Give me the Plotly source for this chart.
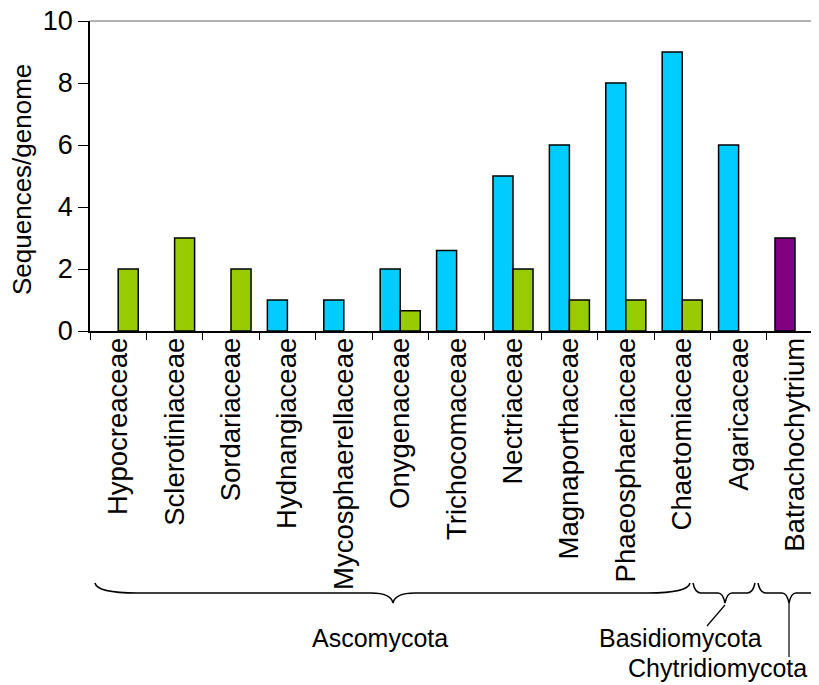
import plotly.graph_objects as go

categories = ["Hypocreaceae", "Sclerotiniaceae", "Sordariaceae", "Hydnangiaceae",
              "Mycosphaerellaceae", "Onygenaceae", "Trichocomaceae", "Nectriaceae",
              "Magnaporthaceae", "Phaeosphaeriaceae", "Chaetomiaceae", "Agaricaceae",
              "Batrachochytrium"]
cyan_values = [None, None, None, 1, 1, 2, 2.6, 5, 6, 8, 9, 6, None]
green_values = [2, 3, 2, None, None, 0.65, None, 2, 1, 1, 1, None, None]
purple_values = [None] * 12 + [3]
y_ticks = [0, 2, 4, 6, 8, 10]

phyla = ["Ascomycota", "Basidiomycota", "Chytridiomycota"]
y_title = "Sequences/genome"

FONT = "Liberation Sans, Arial, sans-serif"
OFF = 8  # page body margin
W, H = 819, 685
# desired screen positions of plot area: x 90.., y 21..331
SL, ST, SB = 90, 21, 331
CAT_W = 56.4
L = SL - OFF
T = ST - OFF
B = H - (SB - OFF)
PW = W - L          # r = 0
PH = SB - ST
X_END = PW / CAT_W - 0.5


def px(x):
    return (x - SL) / PW


def py(y):
    return (SB - y) / PH


def P(x, y):
    return f"{px(x):.5f},{py(y):.5f}"


def brace(x0, x1, xt, r0, rt, y0=583, ym=593, yt=603):
    return (f"M{P(x0, y0)} Q{P(x0 + 2, ym)} {P(x0 + r0, ym)} "
            f"L{P(xt - rt, ym)} Q{P(xt - 2, ym)} {P(xt, yt)} "
            f"Q{P(xt + 2, ym)} {P(xt + rt, ym)} "
            f"L{P(x1 - r0, ym)} Q{P(x1 - 2, ym)} {P(x1, y0)}")


fig = go.Figure()
line = dict(color="black", width=1.5)
fig.add_trace(go.Bar(x=categories, y=cyan_values, marker=dict(color="#00CCFF", line=line),
                     offsetgroup="a", name="a"))
fig.add_trace(go.Bar(x=categories, y=green_values, marker=dict(color="#99CC00", line=line),
                     offsetgroup="b", name="b"))
fig.add_trace(go.Bar(x=categories, y=purple_values, marker=dict(color="#800080", line=line),
                     offsetgroup="a", name="c"))

shapes = [
    dict(type="line", xref="paper", yref="paper", x0=0, x1=1, y0=1, y1=1,
         line=dict(color="#999999", width=1.5)),
    dict(type="path", xref="paper", yref="paper", path=brace(95, 690, 393, 42, 22),
         line=dict(color="black", width=1.5)),
    dict(type="path", xref="paper", yref="paper", path=brace(693, 755, 725, 8, 7),
         line=dict(color="black", width=1.5)),
    dict(type="path", xref="paper", yref="paper", path=brace(758, 850, 789, 8, 7),
         line=dict(color="black", width=1.5)),
    dict(type="line", xref="paper", yref="paper", x0=px(725), y0=py(605), x1=px(707), y1=py(626),
         line=dict(color="black", width=1.2)),
    dict(type="line", xref="paper", yref="paper", x0=px(789), y0=py(603), x1=px(789), y1=py(657),
         line=dict(color="black", width=1.2)),
]

annotations = [
    dict(text=phyla[0], x=px(380), y=py(638)),
    dict(text=phyla[1], x=px(680), y=py(638)),
    dict(text=phyla[2], x=px(717), y=py(668)),
]
for a in annotations:
    a.update(font=dict(family=FONT, size=25, color="black"))
annotations.append(dict(text=y_title, x=px(22), y=py(180), textangle=-90,
                        font=dict(family=FONT, size=26, color="black")))
for a in annotations:
    a.update(xref="paper", yref="paper", xanchor="center", yanchor="middle", showarrow=False)

fig.update_layout(
    width=W, height=H,
    margin=dict(l=L, r=0, t=T, b=B, autoexpand=False),
    paper_bgcolor="white", plot_bgcolor="white",
    barmode="group", bargap=0.29, bargroupgap=0,
    showlegend=False,
    font=dict(family=FONT, color="black"),
    shapes=shapes, annotations=annotations,
)
fig.update_xaxes(
    range=[-0.5, X_END],
    showline=True, linecolor="black", linewidth=1.5,
    ticks="outside", tickson="boundaries", ticklen=7, tickwidth=1.2, tickcolor="black",
    tickangle=-90, tickfont=dict(family=FONT, size=27.5, color="black"),
    showgrid=False, automargin=False, ticklabelstandoff=-6,
)
fig.update_yaxes(
    range=[0, 10], tickmode="array", tickvals=y_ticks, ticktext=[str(v) for v in y_ticks],
    showline=True, linecolor="black", linewidth=1.5,
    ticks="outside", ticklen=10, tickwidth=1.2, tickcolor="black",
    tickfont=dict(family=FONT, size=27, color="black"),
    ticklabeloverflow="allow",
    showgrid=False, zeroline=False, automargin=False,
)

fig.write_html("out.html")
